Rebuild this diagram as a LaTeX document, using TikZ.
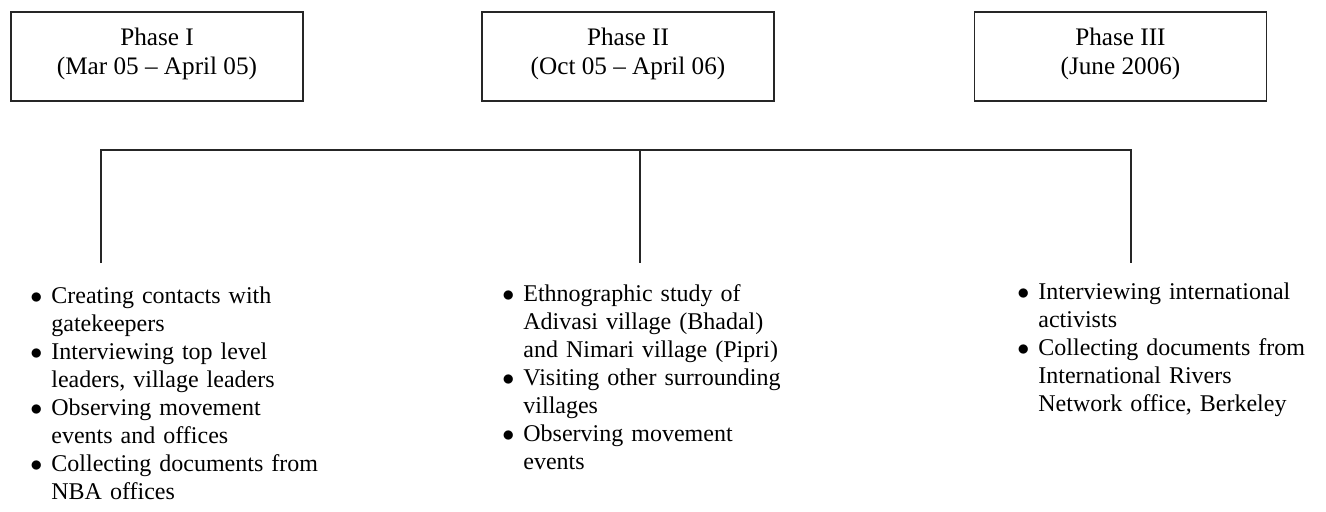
\documentclass[tikz,border=0pt]{standalone}
\usepackage{fontspec}
\setmainfont{Liberation Serif}
\usepackage{tikz}
\usetikzlibrary{positioning,calc}

\newcommand{\listdot}{\makebox[10.5pt][l]{$\bullet$}}
\newcommand{\actitem}[1]{\par\noindent\hangindent=10.5pt\hangafter=1\listdot#1\par}

\begin{document}
\begin{tikzpicture}[
  x=0.5pt, y=-0.5pt,
  every node/.style={font=\fontsize{12}{14}\selectfont},
  phasebox/.style={rectangle, draw=black!85, line width=0.8pt, minimum width=146pt, minimum height=44.5pt,
    inner sep=0pt, align=center, text depth=5.6pt, font=\fontsize{12.6}{14.5}\selectfont},
  acts/.style={anchor=north west, inner sep=0pt, text width=160pt},
  wire/.style={draw=black!85, line width=0.8pt}
]
  \useasboundingbox (0,0) rectangle (1326,511);

  % phases
  \node[phasebox] (p1) at (157,56.5) {Phase I\\(Mar 05 -- April 05)};
  \node[phasebox] (p2) at (628,56.5) {Phase II\\(Oct 05 -- April 06)};
  \node[phasebox] (p3) at (1120.5,56.5) {Phase III\\(June 2006)};

  % bracket
  \coordinate (busL) at (101,150);
  \coordinate (busM) at (640,150);
  \coordinate (busR) at (1131,150);
  \coordinate (tip1) at (101,263);
  \coordinate (tip2) at (640,263);
  \coordinate (tip3) at (1131,263);
  \draw[wire] (tip1) -- (busL) -- (busR) -- (tip3);
  \draw[wire] (busM) -- (tip2);

  % activities
  \node[acts] (a1) at (30,275) {\raggedright
    \actitem{Creating contacts with\newline gatekeepers}
    \actitem{Interviewing top level\newline leaders, village leaders}
    \actitem{Observing movement\newline events and offices}
    \actitem{Collecting documents from\newline NBA offices}};
  \node[acts] (a2) at (502,273) {\raggedright
    \actitem{Ethnographic study of\newline Adivasi village (Bhadal)\newline and Nimari village (Pipri)}
    \actitem{Visiting other surrounding\newline villages}
    \actitem{Observing movement\newline events}};
  \node[acts] (a3) at (1017,271) {\raggedright
    \actitem{Interviewing international\newline activists}
    \actitem{Collecting documents from\newline International Rivers\newline Network office, Berkeley}};
\end{tikzpicture}
\end{document}
